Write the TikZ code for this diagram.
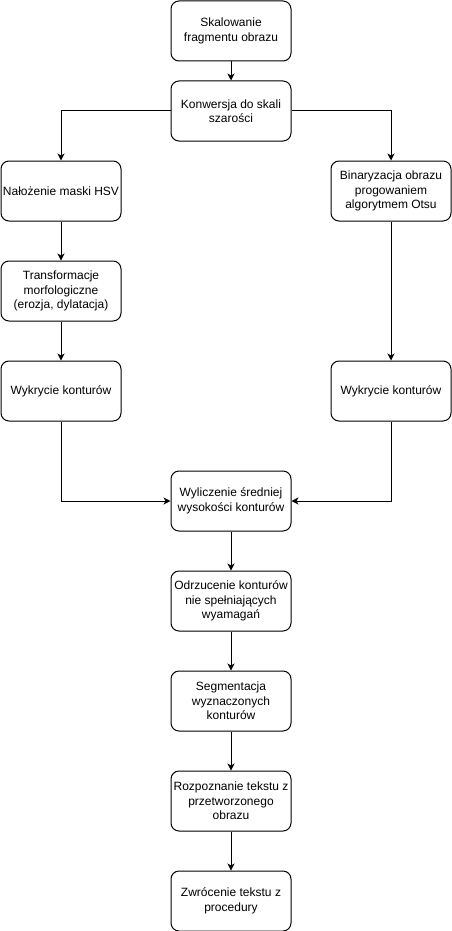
\documentclass[tikz,border=0pt]{standalone}
\usepackage{fontspec}
\setmainfont{Liberation Sans}
\usetikzlibrary{positioning,arrows.meta}

\begin{document}
\begin{tikzpicture}[
  x=1pt, y=-1pt,
  every node/.style={font=\fontsize{12pt}{14.5pt}\selectfont},
  stepbox/.style={
    draw=black, fill=white, rounded corners=8pt, line width=1pt,
    minimum width=120pt, minimum height=60pt, align=center,
    inner sep=1pt,
  },
  flow/.style={-{Stealth[length=7pt,width=7pt,inset=2pt]}, line width=1pt},
]
  \useasboundingbox (0,0) rectangle (451,931);

  % Middle column
  \node[stepbox] (scale)   at (231, 31)  {Skalowanie\\fragmentu obrazu};
  \node[stepbox] (gray)    at (231, 111) {Konwersja do skali\\szarości};

  % Left branch: HSV mask
  \node[stepbox] (hsv)     at (61, 191)  {Nałożenie maski HSV};
  \node[stepbox] (morph)   at (61, 291)  {Transformacje\\morfologiczne\\(erozja, dylatacja)};
  \node[stepbox] (contL)   at (61, 391)  {Wykrycie konturów};

  % Right branch: Otsu
  \node[stepbox] (otsu)    at (391, 191) {Binaryzacja obrazu\\progowaniem\\algorytmem Otsu};
  \node[stepbox] (contR)   at (391, 391) {Wykrycie konturów};

  % Joined path
  \node[stepbox] (height)  at (231, 501) {Wyliczenie średniej\\wysokości konturów};
  \node[stepbox] (reject)  at (231, 601) {Odrzucenie konturów\\nie spełniających\\wyamagań};
  \node[stepbox] (segm)    at (231, 701) {Segmentacja\\wyznaczonych\\konturów};
  \node[stepbox] (ocr)     at (231, 801) {Rozpoznanie tekstu z\\przetworzonego\\obrazu};
  \node[stepbox] (ret)     at (231, 901) {Zwrócenie tekstu z\\procedury};

  \draw[flow] (scale)  -- (gray);
  \draw[flow] (gray.west) -| (hsv.north);
  \draw[flow] (gray.east) -| (otsu.north);
  \draw[flow] (hsv)    -- (morph);
  \draw[flow] (morph)  -- (contL);
  \draw[flow] (otsu)   -- (contR);
  \draw[flow] (contL.south) |- (height.west);
  \draw[flow] (contR.south) |- (height.east);
  \draw[flow] (height) -- (reject);
  \draw[flow] (reject) -- (segm);
  \draw[flow] (segm)   -- (ocr);
  \draw[flow] (ocr)    -- (ret);
\end{tikzpicture}
\end{document}
